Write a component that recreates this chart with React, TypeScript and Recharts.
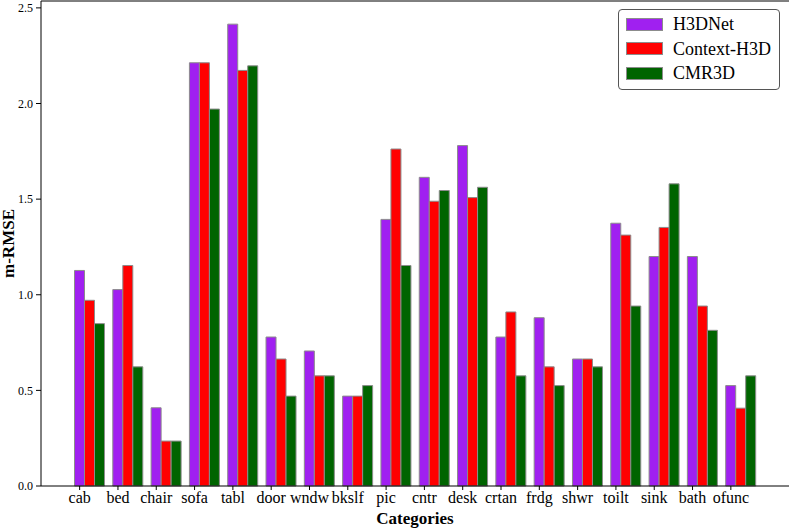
import { Bar, BarChart, ReferenceLine, XAxis, YAxis } from 'recharts'

const CATEGORIES = ['cab', 'bed', 'chair', 'sofa', 'tabl', 'door', 'wndw', 'bkslf', 'pic', 'cntr', 'desk', 'crtan', 'frdg', 'shwr', 'toilt', 'sink', 'bath', 'ofunc']
const H3DNET = [1.127, 1.027, 0.409, 2.213, 2.415, 0.779, 0.706, 0.47, 1.394, 1.614, 1.78, 0.779, 0.88, 0.664, 1.374, 1.2, 1.2, 0.525]
const CONTEXT_H3D = [0.971, 1.153, 0.235, 2.213, 2.173, 0.664, 0.576, 0.47, 1.762, 1.489, 1.508, 0.91, 0.623, 0.664, 1.312, 1.352, 0.941, 0.407]
const CMR3D = [0.849, 0.623, 0.235, 1.971, 2.197, 0.47, 0.576, 0.525, 1.153, 1.545, 1.562, 0.576, 0.525, 0.623, 0.941, 1.58, 0.814, 0.576]
const SERIES_NAMES = ['H3DNet', 'Context-H3D', 'CMR3D']
const SERIES_VALUES = [H3DNET, CONTEXT_H3D, CMR3D]
const Y_TICKS = [0, 0.5, 1, 1.5, 2, 2.5]
const Y_MAX = 2.536

// matplotlib-ish look: X11 purple / red / darkgreen with grey edges
const COLORS = ['#A020F0', '#FF0000', '#006400']
const EDGE = '#8c8c8c'
const SERIF = '"Liberation Serif", "DejaVu Serif", serif'
const BAR_SIZE = 10
const TICK_SIZE = 4
const TICK_MARGIN = 2

const data = CATEGORIES.map((c, i) => {
  const row: Record<string, number | string> = { name: c }
  SERIES_NAMES.forEach((s, k) => (row[s] = SERIES_VALUES[k][i]))
  return row
})

// tick sits under the first bar of each group, like plt.xticks(x) with bars at x, x+w, x+2w
function XTick(props: any) {
  const { x, y, payload } = props
  const tx = x - BAR_SIZE
  const axisY = y - TICK_SIZE - TICK_MARGIN
  return (
    <g>
      <line x1={tx} x2={tx} y1={axisY} y2={axisY + TICK_SIZE} stroke="#000" />
      <text x={tx} y={y} dy="0.71em" textAnchor="middle" fontSize={16} fontFamily={SERIF} fill="#000">
        {payload.value}
      </text>
    </g>
  )
}

function YLabel(props: any) {
  const vb = props.viewBox
  const x = vb.x + 14
  const y = vb.y + vb.height / 2
  return (
    <text x={x} y={y} transform={`rotate(-90, ${x}, ${y})`} textAnchor="middle" fontSize={17} fontWeight="bold" fontFamily={SERIF} fill="#000">
      m-RMSE
    </text>
  )
}

function LegendBox() {
  return (
    <div
      style={{
        position: 'absolute',
        left: 618,
        top: 9,
        width: 160,
        height: 79,
        border: '1px solid #555',
        borderRadius: 4,
        background: '#fff',
        fontFamily: SERIF,
        fontSize: 18,
        color: '#000',
        boxSizing: 'content-box',
      }}
    >
      {SERIES_NAMES.map((s, i) => (
        <div key={s} style={{ position: 'absolute', left: 7, top: 7 + i * 24.5, height: 14, display: 'flex', alignItems: 'center' }}>
          <div style={{ width: 35, height: 11, background: COLORS[i], border: `1px solid ${EDGE}` }} />
          <span style={{ marginLeft: 10, lineHeight: '14px', whiteSpace: 'nowrap' }}>{s}</span>
        </div>
      ))}
    </div>
  )
}

export default function App() {
  return (
    <div style={{ position: 'fixed', left: 0, top: 0, width: 789, height: 528, background: '#fff' }}>
      <BarChart width={789} height={528} data={data} margin={{ top: 1, right: 0, left: 0, bottom: 0 }} barGap={0} barSize={BAR_SIZE}>
        <XAxis
          dataKey="name"
          interval={0}
          height={42}
          padding={{ left: 29.5, right: 29 }}
          axisLine={{ stroke: '#000' }}
          tickLine={false}
          tickSize={TICK_SIZE}
          tickMargin={TICK_MARGIN}
          tick={<XTick />}
          label={{ value: 'Categories', position: 'insideBottom', offset: 4, fontSize: 17, fontWeight: 'bold', fontFamily: SERIF, fill: '#000' }}
        />
        <YAxis
          type="number"
          domain={[0, Y_MAX]}
          ticks={Y_TICKS}
          width={41}
          tickFormatter={(v: number) => v.toFixed(1)}
          tick={{ fontSize: 12, fontFamily: SERIF, fill: '#000' }}
          tickSize={5}
          tickMargin={3}
          tickLine={{ stroke: '#000' }}
          axisLine={{ stroke: '#000' }}
          label={<YLabel />}
        />
        <ReferenceLine y={Y_MAX} stroke="#000" />
        {SERIES_NAMES.map((s, i) => (
          <Bar key={s} dataKey={s} fill={COLORS[i]} stroke={EDGE} strokeWidth={1} isAnimationActive={false} />
        ))}
      </BarChart>
      <LegendBox />
    </div>
  )
}
